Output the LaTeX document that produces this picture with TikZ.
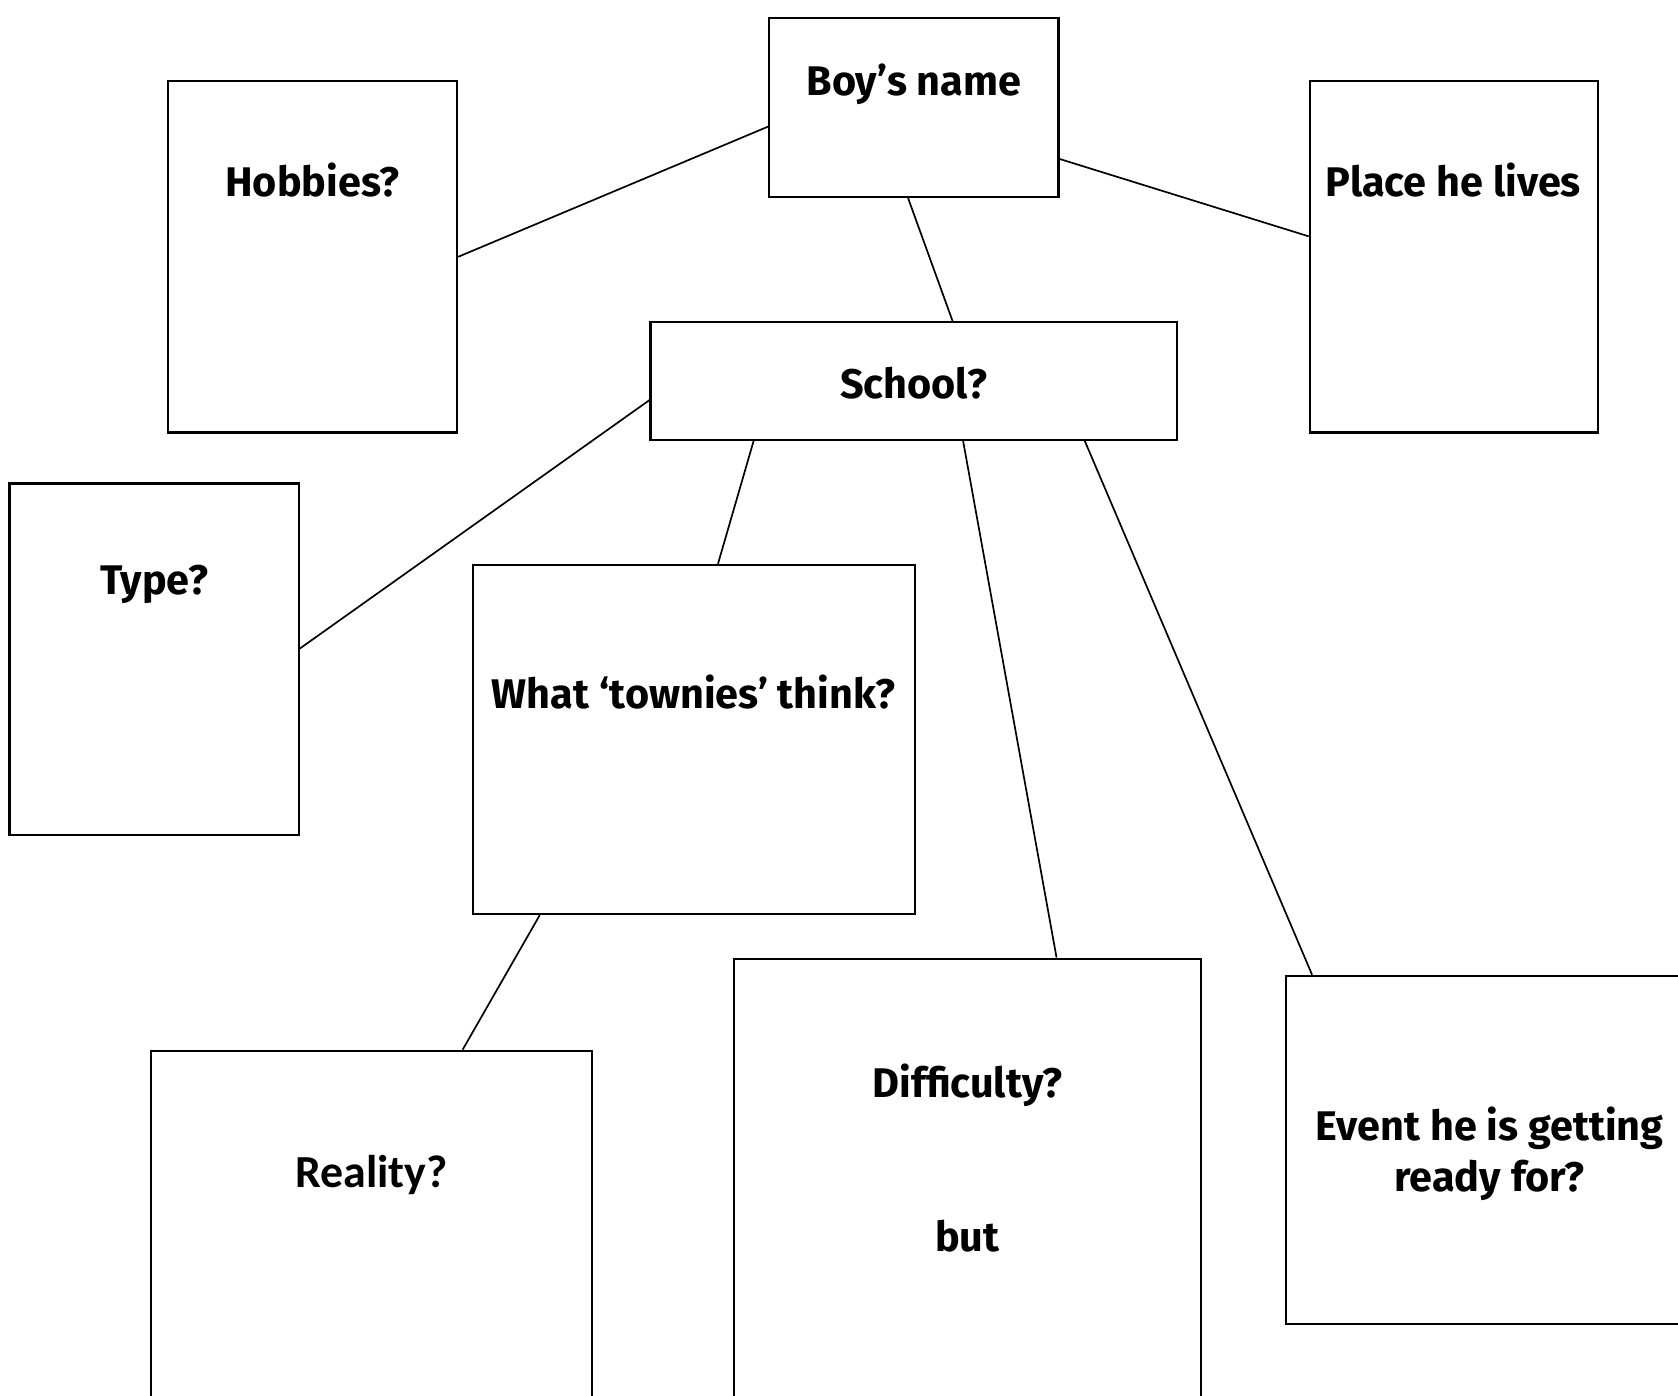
\documentclass[tikz,border=0pt]{standalone}
\usepackage{fontspec}
\setmainfont{Fira Sans}
\newfontfamily\realityfont{Carlito}
\usetikzlibrary{calc}
\usetikzlibrary{positioning}

\begin{document}
\begin{tikzpicture}[x=0.01cm,y=-0.01cm,
    box/.style 2 args={draw,line width=0.6pt,minimum width=#1cm,minimum height=#2cm,inner sep=0pt},
    link/.style={line width=0.45pt},
    lbl/.style={font=\fontsize{11}{13.4}\selectfont\bfseries,align=center,inner sep=0pt}]
            \useasboundingbox (0,0) rectangle (1568,1304);
            \clip (0,0) rectangle (1568,1304);
            % boxes
            \node[box={2.70}{1.67}] (boy) at (854,100.5) {};
            \node[box={2.70}{3.28}] (hobbies) at (292,240) {};
            \node[box={2.69}{3.28}] (place) at (1358.5,240) {};
            \node[box={4.92}{1.10}] (school) at (854,356) {};
            \node[box={2.70}{3.28}] (type) at (144,616) {};
            \node[box={4.13}{3.26}] (townies) at (648.5,691) {};
            \node[box={4.12}{4.00}] (reality) at (347,1182) {};
            \node[box={4.36}{4.50}] (difficulty) at (904,1121) {};
            \node[box={3.80}{3.25}] (event) at (1392,1074.5) {};
            % texts
            \node[lbl] (boyT) at (854,79) {Boy’s name};
            \node[lbl] (hobbiesT) at (292,168) {Hobbies?};
            \node[lbl] (placeT) at (1358,168) {Place he lives};
            \node[lbl] (schoolT) at (854,358) {School?};
            \node[lbl] (typeT) at (144,546) {Type?};
            \node[lbl] (towniesT) at (648,647) {What ‘townies’ think?};
            \node[lbl,font=\realityfont\fontsize{12.2}{14}\selectfont\bfseries] (realityT) at (347,1098) {Reality?};
            \node[lbl] (difficultyT) at (904,1014) {Difficulty?};
            \node[lbl] (butT) at (904,1155) {but};
            \node[lbl] (eventT) at (1392,1078) {Event he is getting\\ready for?};
            % connectors
            \draw[link] ($(boy.north west)!0.605!(boy.south west)$) -- (hobbies.east);
            \draw[link] ($(boy.north east)!0.784!(boy.south east)$) -- ($(place.north west)!0.442!(place.south west)$);
            \draw[link] ($(boy.south west)!0.48!(boy.south east)$) -- ($(school.north west)!0.573!(school.north east)$);
            \draw[link] ($(school.north west)!0.66!(school.south west)$) -- ($(type.north east)!0.47!(type.south east)$);
            \draw[link] ($(school.south west)!0.197!(school.south east)$) -- ($(townies.north west)!0.554!(townies.north east)$);
            \draw[link] ($(school.south west)!0.593!(school.south east)$) -- ($(difficulty.north west)!0.69!(difficulty.north east)$);
            \draw[link] ($(school.south west)!0.823!(school.south east)$) -- ($(event.north west)!0.066!(event.north east)$);
            \draw[link] ($(townies.south west)!0.153!(townies.south east)$) -- ($(reality.north west)!0.706!(reality.north east)$);
        \end{tikzpicture}
\end{document}
